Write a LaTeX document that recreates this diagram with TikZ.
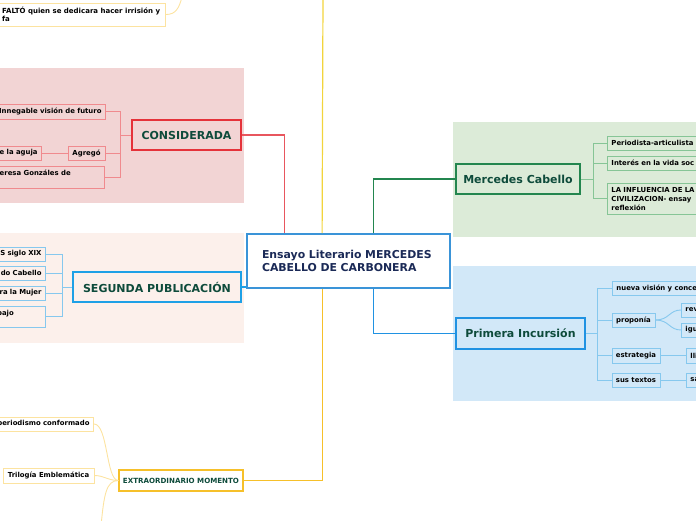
\documentclass[tikz,border=0pt]{standalone}
\usepackage{fontspec}
\setmainfont{DejaVu Sans}
\usetikzlibrary{calc}
\definecolor{pinkbg}{HTML}{F2D4D4}
\definecolor{peachbg}{HTML}{FCF0EB}
\definecolor{greenbg}{HTML}{DCEBD8}
\definecolor{bluebg}{HTML}{D2E8F8}
\definecolor{redmain}{HTML}{E5323A}
\definecolor{redline}{HTML}{E8565E}
\definecolor{redthin}{HTML}{F08A8E}
\definecolor{greenmain}{HTML}{23864F}
\definecolor{greenthin}{HTML}{86C596}
\definecolor{bluemain}{HTML}{2092E2}
\definecolor{segblue}{HTML}{1EA0E6}
\definecolor{bluethin}{HTML}{86C8EE}
\definecolor{cenblue}{HTML}{3A94D8}
\definecolor{yellowmain}{HTML}{F6C02A}
\definecolor{yellowtop}{HTML}{F2D43C}
\definecolor{yellowthin}{HTML}{FCE3A0}
\definecolor{darkgreen}{HTML}{0E4B3B}
\definecolor{navy}{HTML}{1B2A57}
\tikzset{
  small/.style={font=\fontsize{6.9}{8.8}\selectfont\bfseries, text=black},
  base/.style={small, inner ysep=0pt, minimum height=14pt},
  lcut/.style={base, anchor=east, inner xsep=4pt, text width=150pt, align=right},
  rcut/.style={base, anchor=west, inner xsep=4pt, text width=150pt, align=left},
  mid/.style={base, inner sep=0pt},
  plain/.style={inner sep=0pt},
  redc/.style={draw=redthin, fill=pinkbg, line width=0.9pt},
  segc/.style={draw=bluethin, fill=peachbg, line width=0.9pt},
  greenc/.style={draw=greenthin, fill=greenbg, line width=0.9pt},
  bluec/.style={draw=bluethin, fill=bluebg, line width=0.9pt},
  yelc/.style={draw=yellowthin, fill=white, line width=0.9pt},
  mainbox/.style={font=\fontsize{11}{13}\selectfont\bfseries, text=darkgreen, inner sep=0pt, line width=1.8pt},
  conn/.style={line width=1.2pt},
  thin/.style={line width=0.9pt},
}
\begin{document}
\begin{tikzpicture}[x=1pt,y=-1pt]
\useasboundingbox (0,0) rectangle (696,520);
\clip (0,0) rectangle (696,520);
% background regions
\fill[pinkbg] (0,68) rectangle (244,203);
\fill[peachbg] (0,233) rectangle (244,343);
\fill[greenbg] (453,122) rectangle (696,237);
\fill[bluebg] (453,266) rectangle (696,401);

% central node
\node[draw=cenblue, fill=white, line width=1.8pt, minimum width=203pt, minimum height=54pt,
      inner xsep=15pt, text width=173pt, align=left, font=\fontsize{10.9}{13}\selectfont\bfseries, text=navy]
      (cen) at (348.5,261) {Ensayo Literario MERCEDES\\CABELLO DE CARBONERA};

% main nodes
\node[mainbox, draw=redmain, fill=pinkbg, minimum width=109pt, minimum height=30pt] (cons) at (186.5,135) {CONSIDERADA};
\node[mainbox, draw=segblue, fill=peachbg, minimum width=168pt, minimum height=30pt] (seg) at (157,287) {SEGUNDA PUBLICACIÓN};
\node[mainbox, draw=greenmain, fill=greenbg, minimum width=124pt, minimum height=30pt] (merc) at (518,179) {Mercedes Cabello};
\node[mainbox, draw=bluemain, fill=bluebg, minimum width=129pt, minimum height=31pt] (prim) at (520.5,333.5) {Primera Incursión};
\node[draw=yellowmain, fill=white, line width=1.3pt, inner sep=0pt, minimum width=124pt, minimum height=21pt,
      font=\fontsize{7.1}{8}\selectfont\bfseries, text=darkgreen] (extra) at (181,480.5) {EXTRAORDINARIO MOMENTO};

% central connectors
\coordinate (ytop) at (323,-5);
\draw[conn, redline] ([xshift=38pt]cen.north west) |- (cons.east);
\draw[conn, yellowtop] ([xshift=76pt]cen.north west) -- (ytop);
\draw[conn, yellowmain] ([xshift=76pt]cen.south west) |- (extra.east);
\draw[conn, greenmain] ([xshift=127pt]cen.north west) |- (merc.west);
\draw[conn, bluemain] ([xshift=127pt]cen.south west) |- (prim.west);
\draw[conn, segblue] (seg.east) -- (seg.east -| cen.west);

% CONSIDERADA children
\node[lcut, redc, minimum height=15pt] (r1) at (106,111.5) {Innegable visión de futuro};
\node[mid, redc, minimum width=37pt] (r2) at (86.5,153) {Agregó};
\node[lcut, redc] (r3) at (42,153) {e la aguja};
\node[plain, redc, anchor=east, minimum width=150pt, minimum height=22pt] (r4) at (105,177) {};
\node[small, plain, anchor=base east] (r4t) at (71,175.5) {eresa Gonzáles de};
\coordinate (rj) at (120,135);
\draw[thin, redthin] (cons.west) -- (rj);
\draw[thin, redthin] (rj) |- (r1.east);
\draw[thin, redthin] (rj) |- (r2.east);
\draw[thin, redthin] (rj) |- (r4.east);
\draw[thin, redthin] (r3.east) -- (r2.west);

% SEGUNDA children
\node[lcut, segc] (s1) at (46,254) {S siglo XIX};
\node[lcut, segc] (s2) at (46,273) {do Cabello};
\node[lcut, segc] (s3) at (46,293) {ra la Mujer};
\node[plain, segc, anchor=east, minimum width=150pt, minimum height=21pt] (s4) at (46,316.5) {};
\node[small, plain, anchor=base east] (s4t) at (14,315.5) {bajo};
\coordinate (sj) at (62,287);
\draw[thin, bluethin] (seg.west) -- (sj);
\draw[thin, bluethin] (sj) |- (s1.east);
\draw[thin, bluethin] (sj) |- (s2.east);
\draw[thin, bluethin] (sj) |- (s3.east);
\draw[thin, bluethin] (sj) |- (s4.east);

% Mercedes Cabello children
\node[rcut, greenc] (g1) at (607,143) {Periodista-articulista};
\node[rcut, greenc] (g2) at (607,163) {Interés en la vida soc};
\node[rcut, greenc, minimum height=31pt, font=\fontsize{6.9}{9}\selectfont\bfseries] (g3) at (607,198.5) {LA INFLUENCIA DE LA\\CIVILIZACION- ensay\\reflexión};
\coordinate (gj) at (593,179);
\draw[thin, greenthin] (merc.east) -- (gj);
\draw[thin, greenthin] (gj) |- (g1.west);
\draw[thin, greenthin] (gj) |- (g2.west);
\draw[thin, greenthin] (gj) |- (g3.west);

% Primera Incursion children
\node[rcut, bluec] (b1) at (612,288) {nueva visión y conce};
\node[mid, bluec, minimum width=43pt] (b2) at (633.5,320) {proponía};
\node[mid, bluec, minimum width=48pt, minimum height=15pt] (b3) at (636,355.5) {estrategia};
\node[mid, bluec, minimum width=48pt] (b4) at (636,380) {sus textos};
\node[rcut, bluec] (b21) at (681,310) {rev};
\node[rcut, bluec] (b22) at (681,330) {igu};
\node[rcut, bluec, minimum height=15pt] (b31) at (686,355.5) {lli};
\node[rcut, bluec] (b41) at (686,380) {sa};
\coordinate (bj) at (597,333.5);
\draw[thin, bluethin] (prim.east) -- (bj);
\draw[thin, bluethin] (bj) |- (b1.west);
\draw[thin, bluethin] (bj) |- (b2.west);
\draw[thin, bluethin] (bj) |- (b3.west);
\draw[thin, bluethin] (bj) |- (b4.west);
\draw[thin, bluethin] (b2.east) .. controls +(14,0) and +(-12,0) .. (b21.west);
\draw[thin, bluethin] (b2.east) .. controls +(14,0) and +(-12,0) .. (b22.west);
\draw[thin, bluethin] (b3.east) -- (b31.west);
\draw[thin, bluethin] (b4.east) -- (b41.west);

% EXTRAORDINARIO children
\node[lcut, yelc] (y1) at (94,424) {periodismo conformado};
\node[mid, yelc, minimum width=91pt, minimum height=15pt] (y2) at (48.5,475.5) {Trilogía Emblemática};
\coordinate (y3) at (101,526);
\draw[thin, yellowthin] (extra.west) .. controls (106,480.5) and (108,424) .. (y1.east);
\draw[thin, yellowthin] (extra.west) .. controls (108,480.5) and (104,475.5) .. (y2.east);
\draw[thin, yellowthin] (extra.west) .. controls (106,480.5) and (104,495) .. (y3);

% top-left FALTO node
\node[plain, yelc, anchor=east, minimum width=200pt, minimum height=23pt] (f) at (166,14.5) {};
\node[small, plain, anchor=north west, align=left, font=\fontsize{7}{8}\selectfont\bfseries] (ft) at (2,6.5) {FALTÓ quien se dedicara hacer irrisión y\\fa};
\coordinate (ftop) at (182,-3);
\draw[thin, yellowthin] (f.east) .. controls (176,14.5) and (179,8) .. (ftop);
\end{tikzpicture}
\end{document}
